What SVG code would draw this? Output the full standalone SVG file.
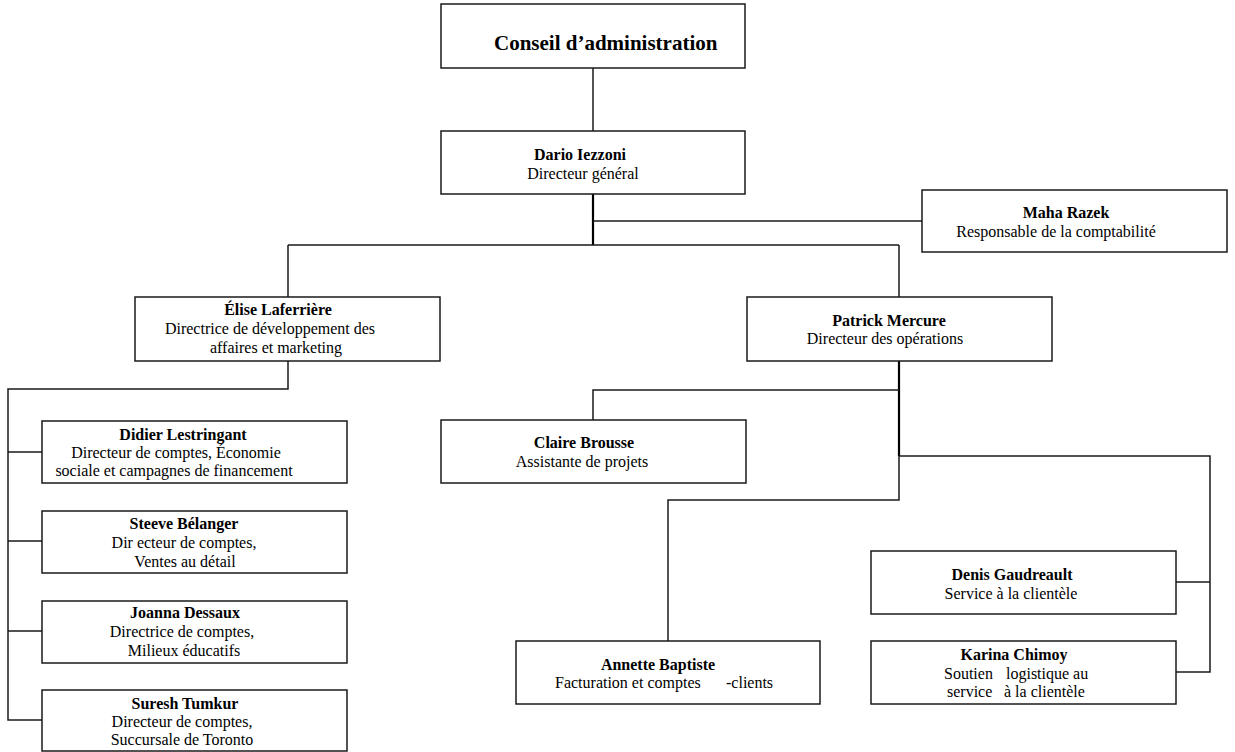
<svg xmlns="http://www.w3.org/2000/svg" width="1235" height="752" viewBox="0 0 1235 752">
<style>
.box{fill:#fff;stroke:#1a1a1a;stroke-width:1.5}
.ln{fill:none;stroke:#1a1a1a;stroke-width:1.5}
.thk{fill:none;stroke:#000;stroke-width:2.2}
text{font-family:"Liberation Serif","Times New Roman",serif;font-size:16px;fill:#000}
.n{font-weight:bold}
.c{text-anchor:middle}
</style>
<rect width="1235" height="752" fill="#fff"/>
<g id="connectors">
<path class="ln" d="M593,68 V131"/>
<path class="thk" d="M593,194 V245"/>
<path class="ln" d="M593,221 H922"/>
<path class="ln" d="M288,245 H899 M288,245 V297 M899,245 V297"/>
<path class="ln" d="M288,361 V389 H8 V720 H42 M8,452 H42 M8,541 H42 M8,631 H42"/>
<path class="thk" d="M899,361 V456"/>
<path class="ln" d="M899,456 V500 H668 V641"/>
<path class="ln" d="M899,390 H593 V420"/>
<path class="ln" d="M899,456 H1210 V672 H1176 M1176,582 H1210"/>
</g>
<g id="conseil">
<rect class="box" x="441" y="4" width="304" height="64"/>
<text class="n" x="494" y="50" style="font-size:21px">Conseil d’administration</text>
</g>
<g id="dario">
<rect class="box" x="441" y="131" width="304" height="63"/>
<text class="n c" x="580" y="160">Dario Iezzoni</text>
<text class="c" x="583" y="179">Directeur général</text>
</g>
<g id="maha">
<rect class="box" x="922" y="190" width="305" height="62"/>
<text class="n c" x="1066" y="218">Maha Razek</text>
<text class="c" x="1056" y="237">Responsable de la comptabilité</text>
</g>
<g id="elise">
<rect class="box" x="135" y="297" width="305" height="64"/>
<text class="n c" x="278" y="315">Élise Laferrière</text>
<text class="c" x="270" y="334">Directrice de développement des</text>
<text class="c" x="276" y="353">affaires et marketing</text>
</g>
<g id="patrick">
<rect class="box" x="747" y="297" width="305" height="64"/>
<text class="n c" x="889" y="326">Patrick Mercure</text>
<text class="c" x="885" y="344">Directeur des opérations</text>
</g>
<g id="didier">
<rect class="box" x="42" y="421" width="305" height="62"/>
<text class="n c" x="183" y="440">Didier Lestringant</text>
<text class="c" x="176" y="458">Directeur de comptes, Économie</text>
<text class="c" x="174" y="476">sociale et campagnes de financement</text>
</g>
<g id="steeve">
<rect class="box" x="42" y="511" width="305" height="62"/>
<text class="n c" x="184" y="529">Steeve Bélanger</text>
<text class="c" x="184" y="548">Dir ecteur de comptes,</text>
<text class="c" x="185" y="567">Ventes au détail</text>
</g>
<g id="joanna">
<rect class="box" x="42" y="601" width="305" height="62"/>
<text class="n c" x="185" y="618">Joanna Dessaux</text>
<text class="c" x="182" y="637">Directrice de comptes,</text>
<text class="c" x="184" y="656">Milieux éducatifs</text>
</g>
<g id="suresh">
<rect class="box" x="42" y="690" width="305" height="61"/>
<text class="n c" x="185" y="709">Suresh Tumkur</text>
<text class="c" x="182" y="727">Directeur de comptes,</text>
<text class="c" x="182" y="745">Succursale de Toronto</text>
</g>
<g id="claire">
<rect class="box" x="441" y="420" width="305" height="63"/>
<text class="n c" x="584" y="448">Claire Brousse</text>
<text class="c" x="582" y="467">Assistante de projets</text>
</g>
<g id="annette">
<rect class="box" x="516" y="641" width="304" height="63"/>
<text class="n c" x="658" y="670">Annette Baptiste</text>
<text y="688"><tspan x="555">Facturation et comptes</tspan><tspan x="726">-clients</tspan></text>
</g>
<g id="denis">
<rect class="box" x="871" y="551" width="305" height="63"/>
<text class="n c" x="1012" y="580">Denis Gaudreault</text>
<text class="c" x="1011" y="599">Service à la clientèle</text>
</g>
<g id="karina">
<rect class="box" x="871" y="641" width="305" height="63"/>
<text class="n c" x="1014" y="660">Karina Chimoy</text>
<text y="679"><tspan x="944">Soutien</tspan><tspan x="1006">logistique au</tspan></text>
<text y="697"><tspan x="947">service</tspan><tspan x="1004">à la clientèle</tspan></text>
</g>
</svg>
